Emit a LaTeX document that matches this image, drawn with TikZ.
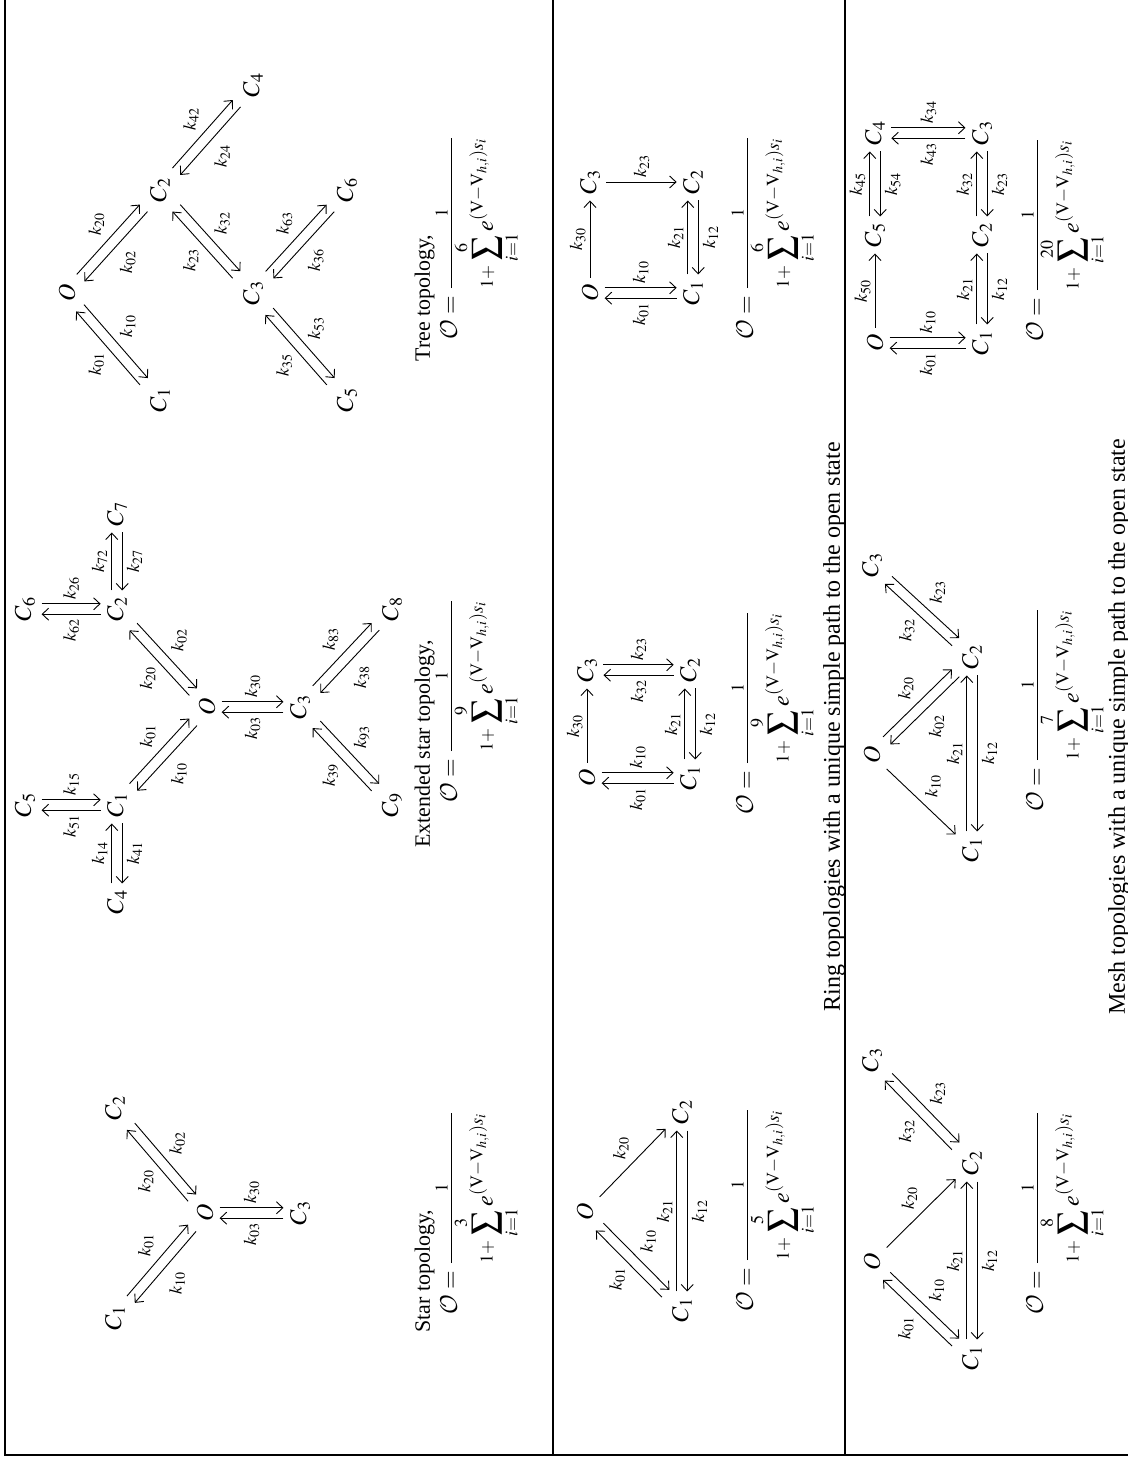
\documentclass[12pt,tikz,border=0pt]{standalone}
\usepackage{mathptmx}
\DeclareMathAlphabet{\mathcal}{OMS}{cmsy}{m}{n}
\usepackage[no-math]{fontspec}
\setmainfont{Liberation Serif}
\usepackage{tikz}
\usetikzlibrary{arrows.meta, positioning, calc}

\tikzset{
  st/.style={rectangle, inner sep=3pt, on grid},
  rate/.style={inner sep=1pt},
  arrow/.style={->, >={Straight Barb[length=3.2pt, width=6pt]}, line width=0.45pt},
  tabrule/.style={line width=0.6pt},
  topcap/.style={anchor=base west, inner sep=0pt, font=\small},
  rowcap/.style={anchor=base, inner sep=0pt},
  frm/.style={anchor=base west, inner sep=0pt}
}
\newcommand{\kk}[1]{$\scriptstyle k_{#1}$}
\newcommand{\popen}[1]{$\mathcal{O}=\frac{1}{1+\displaystyle\sum_{i=1}^{#1}e^{(\mathrm{V}-\mathrm{V}_{h,i})s_i}}$}
% two opposite rates: #1->#2 gets k_#3 on side #4, #2->#1 gets k_#5 on side #6
\newcommand{\rates}[6]{%
  \path (#1) -- (#2) coordinate[pos=0] (s) coordinate[pos=1] (t);
  \draw[arrow] ($(s)!2.6pt!90:(t)$) -- node[rate, #4=1pt] {\kk{#3}} ($(t)!2.6pt!-90:(s)$);
  \draw[arrow] ($(t)!2.6pt!90:(s)$) -- node[rate, #6=1pt] {\kk{#5}} ($(s)!2.6pt!-90:(t)$);
}

\begin{document}
\begin{tikzpicture}[x=1pt, y=1pt, rotate=90, transform shape]
    \useasboundingbox (0,0) rectangle (728.5,564);
    % table rules
    \draw[tabrule] (728.5,561.5) -- (1,561.5) -- (1,0);
    \draw[tabrule] (1,287.5) -- (728.5,287.5);
    \draw[tabrule] (1,141.5) -- (728.5,141.5);

    % star
    \node[st] (sO) at (122,461.5) {$O$};
    \node[st, above left=45pt and 52.5pt of sO] (s1) {$C_1$};
    \node[st, above right=45pt and 52.5pt of sO] (s2) {$C_2$};
    \node[st, below=47.5pt of sO] (s3) {$C_3$};
    \rates{s1}{sO}{01}{above right}{10}{below left}
    \rates{sO}{s2}{20}{above left}{02}{below right}
    \rates{sO}{s3}{30}{right}{03}{left}
    \node[topcap] (scap) at (62,349) {Star topology,};
    \node[frm] (sfrm) at (71,335.5) {\popen{3}};

    % extended star
    \node[st] (eO) at (375,460.5) {$O$};
    \node[st, above left=45pt and 49pt of eO] (e1) {$C_1$};
    \node[st, above right=45pt and 49pt of eO] (e2) {$C_2$};
    \node[st, below=46.5pt of eO] (e3) {$C_3$};
    \node[st, left=48.5pt of e1] (e4) {$C_4$};
    \node[st, above=46pt of e1] (e5) {$C_5$};
    \node[st, above=46pt of e2] (e6) {$C_6$};
    \node[st, right=47.5pt of e2] (e7) {$C_7$};
    \node[st, below right=46pt and 49pt of e3] (e8) {$C_8$};
    \node[st, below left=46pt and 49pt of e3] (e9) {$C_9$};
    \rates{e1}{eO}{01}{above right}{10}{below left}
    \rates{eO}{e2}{20}{above left}{02}{below right}
    \rates{eO}{e3}{30}{right}{03}{left}
    \rates{e4}{e1}{14}{above}{41}{below}
    \rates{e5}{e1}{15}{right}{51}{left}
    \rates{e6}{e2}{26}{right}{62}{left}
    \rates{e2}{e7}{72}{above}{27}{below}
    \rates{e3}{e8}{83}{above right}{38}{below left}
    \rates{e9}{e3}{39}{above left}{93}{below right}
    \node[topcap] (ecap) at (304.5,349) {Extended star topology,};
    \node[frm] (efrm) at (327,335.5) {\popen{9}};

    % tree
    \node[st] (tO) at (582,530.5) {$O$};
    \node[st, below left=46.5pt and 53.5pt of tO] (t1) {$C_1$};
    \node[st, below right=46.5pt and 51.5pt of tO] (t2) {$C_2$};
    \node[st, below right=46.5pt and 52.5pt of t2] (t4) {$C_4$};
    \node[st, below left=46.5pt and 51.5pt of t2] (t3) {$C_3$};
    \node[st, below right=47pt and 51.5pt of t3] (t6) {$C_6$};
    \node[st, below left=47pt and 53.5pt of t3] (t5) {$C_5$};
    \rates{t1}{tO}{01}{above left}{10}{below right}
    \rates{tO}{t2}{20}{above right}{02}{below left}
    \rates{t2}{t4}{42}{above right}{24}{below left}
    \rates{t3}{t2}{23}{above left}{32}{below right}
    \rates{t3}{t6}{63}{above right}{36}{below left}
    \rates{t5}{t3}{35}{above left}{53}{below right}
    \node[topcap] (tcap) at (547.5,349) {Tree topology,};
    \node[frm] (tfrm) at (558.5,335.5) {\popen{6}};

    % ring topologies
    \node[st] (rO) at (122.5,271.5) {$O$};
    \node[st, below left=48.5pt and 49pt of rO] (r1) {$C_1$};
    \node[st, below right=48.5pt and 50pt of rO] (r2) {$C_2$};
    \rates{r1}{rO}{01}{above left}{10}{below right}
    \draw[arrow] (rO) -- node[rate, above right=1pt] {\kk{20}} (r2);
    \rates{r1}{r2}{21}{above}{12}{below}
    \node[frm] (rfrm) at (72.5,187.5) {\popen{5}};

    \node[st] (qO) at (339.5,270.5) {$O$};
    \node[st, below=51.5pt of qO] (q1) {$C_1$};
    \node[st, right=54pt of qO] (q3) {$C_3$};
    \node[st, below=51.5pt of q3] (q2) {$C_2$};
    \rates{qO}{q1}{10}{right}{01}{left}
    \draw[arrow] (qO) -- node[rate, above=1pt] {\kk{30}} (q3);
    \rates{q3}{q2}{23}{right}{32}{left}
    \rates{q1}{q2}{21}{above}{12}{below}
    \node[frm] (qfrm) at (321,187.5) {\popen{9}};

    \node[st] (pO) at (582,269) {$O$};
    \node[st, below=51.5pt of pO] (p1) {$C_1$};
    \node[st, right=55.5pt of pO] (p3) {$C_3$};
    \node[st, below=51.5pt of p3] (p2) {$C_2$};
    \rates{pO}{p1}{10}{right}{01}{left}
    \draw[arrow] (pO) -- node[rate, above=1pt] {\kk{30}} (p3);
    \draw[arrow] (p3) -- node[rate, right=1pt] {\kk{23}} (p2);
    \rates{p1}{p2}{21}{above}{12}{below}
    \node[frm] (pfrm) at (558.5,187.5) {\popen{6}};
    \node[rowcap] (rcap) at (365,144) {Ring topologies with a unique simple path to the open state};

    % mesh topologies
    \node[st] (mO) at (97.5,128) {$O$};
    \node[st, below left=50pt and 48pt of mO] (m1) {$C_1$};
    \node[st, below right=50pt and 49.5pt of mO] (m2) {$C_2$};
    \node[st, above right=50pt and 51.5pt of m2] (m3) {$C_3$};
    \rates{m1}{mO}{01}{above left}{10}{below right}
    \draw[arrow] (mO) -- node[rate, above right=1pt] {\kk{20}} (m2);
    \rates{m1}{m2}{21}{above}{12}{below}
    \rates{m2}{m3}{32}{above left}{23}{below right}
    \node[frm] (mfrm) at (71,42.5) {\popen{8}};

    \node[st] (nO) at (351,128) {$O$};
    \node[st, below left=50pt and 47.5pt of nO] (n1) {$C_1$};
    \node[st, below right=50pt and 49pt of nO] (n2) {$C_2$};
    \node[st, above right=50pt and 46pt of n2] (n3) {$C_3$};
    \draw[arrow] (nO) -- node[rate, below right=1pt] {\kk{10}} (n1);
    \rates{nO}{n2}{20}{above right}{02}{below left}
    \rates{n1}{n2}{21}{above}{12}{below}
    \rates{n2}{n3}{32}{above left}{23}{below right}
    \node[frm] (nfrm) at (322.5,42.5) {\popen{7}};

    \node[st] (hO) at (557,126.5) {$O$};
    \node[st, below=53.5pt of hO] (h1) {$C_1$};
    \node[st, right=54pt of hO] (h5) {$C_5$};
    \node[st, below=53.5pt of h5] (h2) {$C_2$};
    \node[st, right=51pt of h5] (h4) {$C_4$};
    \node[st, below=53.5pt of h4] (h3) {$C_3$};
    \rates{hO}{h1}{10}{right}{01}{left}
    \draw[arrow] (hO) -- node[rate, above=1pt] {\kk{50}} (h5);
    \rates{h5}{h4}{45}{above}{54}{below}
    \rates{h4}{h3}{34}{right}{43}{left}
    \rates{h1}{h2}{21}{above}{12}{below}
    \rates{h2}{h3}{32}{above}{23}{below}
    \node[frm] (hfrm) at (557.5,42.5) {\popen{20}};
    \node[rowcap] (mcap) at (365,1.5) {Mesh topologies with a unique simple path to the open state};
\end{tikzpicture}
\end{document}
